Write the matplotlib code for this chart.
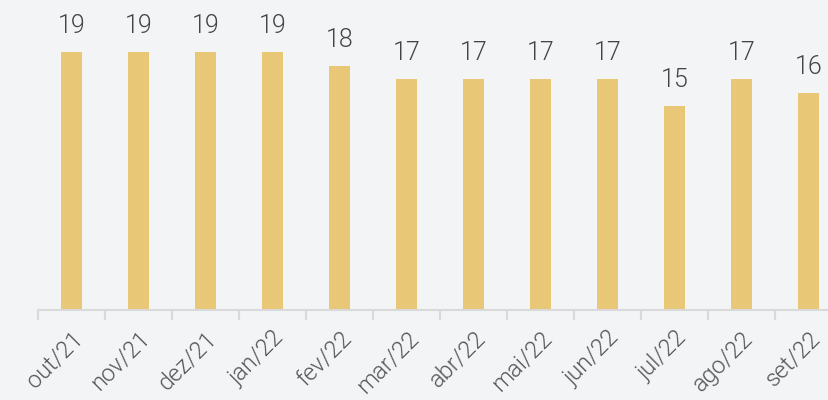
import matplotlib
matplotlib.use("Agg")
from matplotlib import pyplot as plt
import numpy as np

meses = ["out/21", "nov/21", "dez/21", "jan/22", "fev/22", "mar/22",
         "abr/22", "mai/22", "jun/22", "jul/22", "ago/22", "set/22"]
valores = [19, 19, 19, 19, 18, 17, 17, 17, 17, 15, 17, 16]

fundo = "#f3f4f6"
cor_barra = "#e8c777"

plt.rcParams['font.family'] = ['Roboto', 'DejaVu Sans']

fig = plt.figure(figsize=(8.29, 4.0), dpi=100, facecolor=fundo)
# eixo passa da borda direita, como no original
ax = fig.add_axes([38 / 829, 90 / 400, 804 / 829, 310 / 400])
ax.set_facecolor(fundo)

x = np.arange(len(meses))
ax.bar(x, valores, width=0.31, color=cor_barra, zorder=2)

for xi, v in zip(x, valores):
    ax.annotate(str(v), (xi, v), xytext=(0, 26), textcoords="offset pixels",
                ha="center", va="center", fontsize=18, color="#444444",
                fontweight=300)

ax.set_xlim(-0.5, len(meses) - 0.5)
ax.set_ylim(0, 19 * 310 / 258)

for s in ["top", "right", "left"]:
    ax.spines[s].set_visible(False)
ax.spines["bottom"].set_color("#d9d9d9")
ax.spines["bottom"].set_linewidth(1.5)
ax.set_yticks([])

# marcas entre as categorias, rótulos no centro
ax.set_xticks(np.arange(len(meses) + 1) - 0.5)
ax.set_xticklabels([])
ax.tick_params(axis="x", which="major", length=7, width=1.5, color="#d9d9d9")
ax.set_xticks(x, minor=True)
ax.set_xticklabels(meses, minor=True, rotation=45, ha="right",
                   rotation_mode="anchor", fontsize=17, color="#555555",
                   fontweight=300)
ax.tick_params(axis="x", which="minor", length=0, pad=12)

fig.savefig("out.png", dpi=100, facecolor=fundo)
